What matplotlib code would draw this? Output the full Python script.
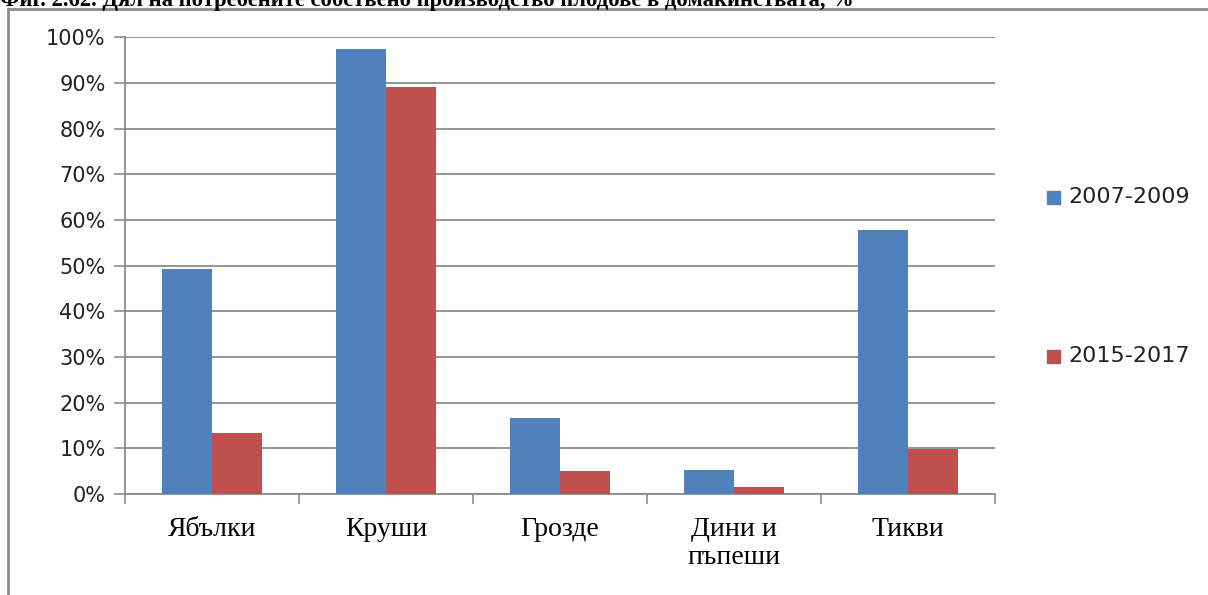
import numpy as np
import matplotlib.pyplot as plt
from matplotlib.patches import Rectangle
from matplotlib.ticker import FuncFormatter

categories = ["Ябълки", "Круши", "Грозде", "Дини и\nпъпеши", "Тикви"]
series_names = ["2007-2009", "2015-2017"]
values_0709 = [49.3, 97.5, 16.6, 5.2, 57.7]
values_1517 = [13.4, 89.2, 5.0, 1.5, 9.9]
colors = ["#4F81BD", "#C0504D"]
title = "Фиг. 2.62. Дял на потребените собствено производство плодове в домакинствата, %"

W, H = 1208, 595
GRID = "#8c8c8c"


def main():
    fig = plt.figure(figsize=(W / 100, H / 100), dpi=100)
    ax = fig.add_axes([125 / W, 1 - 494 / H, 870 / W, (494 - 37.3) / H])

    x = np.arange(len(categories))
    bw = 1 / 3.5
    ax.bar(x - bw / 2, values_0709, bw, color=colors[0], label=series_names[0], zorder=3)
    ax.bar(x + bw / 2, values_1517, bw, color=colors[1], label=series_names[1], zorder=3)

    ax.set_xlim(-0.5, len(categories) - 0.5)
    ax.set_ylim(0, 100)
    ax.set_yticks(np.arange(0, 101, 10))
    ax.yaxis.set_major_formatter(FuncFormatter(lambda v, _: f"{v:.0f}%"))
    ax.tick_params(axis="y", labelsize=15, colors=GRID, labelcolor="#222222",
                   length=8, width=1.2, pad=6)

    # category labels between boundary ticks
    ax.set_xticks(np.arange(-0.5, len(categories), 1))
    ax.set_xticklabels([])
    ax.tick_params(axis="x", length=7, width=1.2, colors=GRID)
    for i, name in enumerate(categories):
        ax.text(i, -5.0, name, ha="center", va="top", fontsize=20,
                family="Liberation Serif", linespacing=1.15,
                transform=ax.transData, clip_on=False)

    ax.grid(axis="y", color=GRID, lw=1.3, zorder=0)
    for s in ["top", "right"]:
        ax.spines[s].set_visible(False)
    for s in ["left", "bottom"]:
        ax.spines[s].set_color(GRID)
        ax.spines[s].set_linewidth(1.3)

    # legend entries
    for name, c, ypx in zip(series_names, colors, [197, 356]):
        fig.patches.append(Rectangle(((1047) / W, 1 - (ypx + 7) / H), 13 / W, 13 / H,
                                     transform=fig.transFigure, color=c))
        fig.text(1068 / W, 1 - ypx / H, name, fontsize=16, va="center",
                 color="#222222")

    # chart frame, cut off at right and bottom
    fig.patches.append(Rectangle((8 / W, -0.1), 1.2, 1 - 9.5 / H + 0.1,
                                 transform=fig.transFigure, fill=False,
                                 ec=GRID, lw=2))

    # title, cut off at the top edge as in the source
    fig.text(0.0, 1 - 6 / H, title, fontsize=16.3, fontweight="bold",
             family="Liberation Serif", va="baseline", ha="left")

    fig.savefig("out.png", dpi=100)


if __name__ == "__main__":
    main()
